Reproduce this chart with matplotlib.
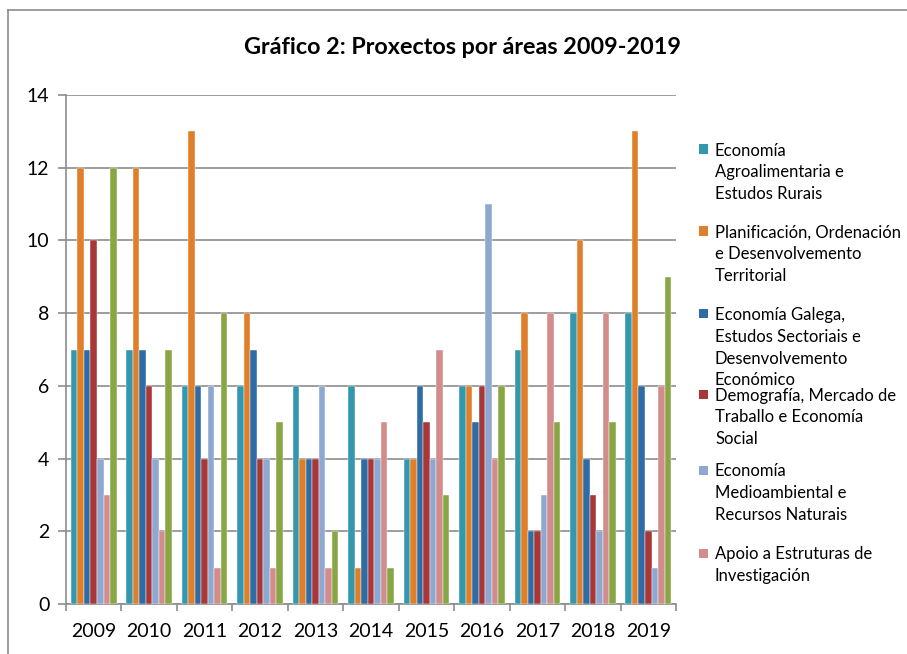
import matplotlib
matplotlib.use("Agg")
import matplotlib.pyplot as plt
import numpy as np
from matplotlib.lines import Line2D
from matplotlib.patches import Rectangle

plt.rcParams['font.family'] = ['Lato', 'DejaVu Sans']

# Data
years = ['2009', '2010', '2011', '2012', '2013', '2014', '2015', '2016', '2017', '2018', '2019']
agro = [7, 7, 6, 6, 6, 6, 4, 6, 7, 8, 8]
planificacion = [12, 12, 13, 8, 4, 1, 4, 6, 8, 10, 13]
galega = [7, 7, 6, 7, 4, 4, 6, 5, 2, 4, 6]
demografia = [10, 6, 4, 4, 4, 4, 5, 6, 2, 3, 2]
medioambiental = [4, 4, 6, 4, 6, 4, 4, 11, 3, 2, 1]
apoio = [3, 2, 1, 1, 1, 5, 7, 4, 8, 8, 6]
outros = [12, 7, 8, 5, 2, 1, 3, 6, 5, 5, 9]

series = [agro, planificacion, galega, demografia, medioambiental, apoio, outros]
colors = ['#3398AD', '#E07F2A', '#2F6CA6', '#A83838', '#8FA8D1', '#D28C8C', '#88A744']
legend_labels = [
    ["Economía", "Agroalimentaria e", "Estudos Rurais"],
    ["Planificación, Ordenación", "e Desenvolvemento", "Territorial"],
    ["Economía Galega,", "Estudos Sectoriais e", "Desenvolvemento", "Económico"],
    ["Demografía, Mercado de", "Traballo e Economía", "Social"],
    ["Economía", "Medioambiental e", "Recursos Naturais"],
    ["Apoio a Estruturas de", "Investigación"],
]
legend_y = [149, 231, 314, 394, 470, 553]  # first line centers, px from top
line_step = 21.6

fig = plt.figure(figsize=(9.07, 6.54), dpi=100)
ax = fig.add_axes([66/907, 1 - 604/654, 610/907, 509/654])

x = np.arange(len(years))
w = 1 / 8.5
for k, (vals, c) in enumerate(zip(series, colors)):
    ax.bar(x + (k - 3) * w, vals, width=w, color=c, edgecolor='white', linewidth=0.3, zorder=3)

ax.set_xlim(-0.5, len(years) - 0.5)
ax.set_ylim(0, 14)
ax.set_yticks(range(0, 15, 2))
ax.yaxis.grid(True, color='#8c8c8c', linewidth=1.2, zorder=0)
ax.set_axisbelow(True)

ax.set_xticks(x)
ax.set_xticklabels(years, fontsize=14)
ax.tick_params(axis='x', which='major', length=0, pad=14)
ax.set_xticks(np.arange(-0.5, len(years)), minor=True)
ax.tick_params(axis='x', which='minor', length=5, width=1.2, color='#8c8c8c', direction='out')
ax.tick_params(axis='y', labelsize=14, length=6, width=1.2, color='#8c8c8c', pad=6)

for s in ['top', 'right']:
    ax.spines[s].set_visible(False)
for s in ['left', 'bottom']:
    ax.spines[s].set_color('#8c8c8c')
    ax.spines[s].set_linewidth(1.2)

fig.text(462/907, 1 - 47/654, "Gráfico 2: Proxectos por áreas 2009-2019",
         ha='center', va='center', fontsize=16.8, fontweight='bold')

# legend drawn by hand to keep the original spacing
for lines, c, yy in zip(legend_labels, colors, legend_y):
    fig.patches.append(Rectangle((699/907, 1 - (yy + 4.5)/654), 9/907, 9/654,
                                 transform=fig.transFigure, facecolor=c, edgecolor='none'))
    for i, line in enumerate(lines):
        fig.text(715/907, 1 - (yy + i * line_step)/654, line, ha='left',
                 va='center_baseline', fontsize=12)

# outer chart border (only left and top visible in the crop)
fig.add_artist(Line2D([8/907, 8/907], [0, 1 - 10/654], transform=fig.transFigure,
                      color='#8c8c8c', linewidth=1.2))
fig.add_artist(Line2D([8/907, 1], [1 - 10/654, 1 - 10/654], transform=fig.transFigure,
                      color='#8c8c8c', linewidth=1.2))

fig.savefig("out.png", dpi=100)
